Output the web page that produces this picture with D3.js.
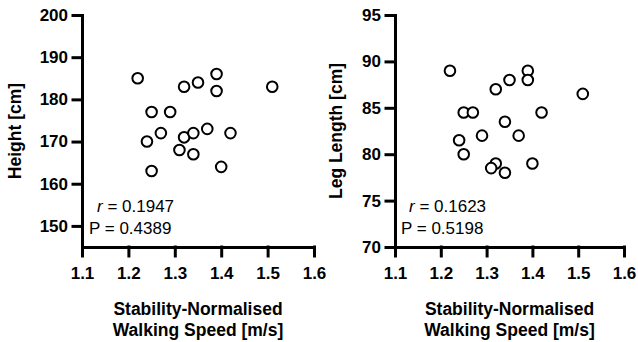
<!DOCTYPE html>
<html>
<head>
<meta charset="utf-8">
<script src="https://cdn.jsdelivr.net/npm/d3@7"></script>
<style>
  body { margin: 0; background: #fff; }
  svg { display: block; font-family: "Liberation Sans", Arial, sans-serif; }
</style>
</head>
<body>
<svg id="chart" width="638" height="342"></svg>
<script>
// walking speed (shared x values)
const speed = [1.22, 1.32, 1.35, 1.39, 1.39, 1.51, 1.25, 1.29, 1.24, 1.27, 1.32, 1.34, 1.37, 1.42, 1.31, 1.34, 1.25, 1.40]
const height = [185, 183, 184, 186, 182, 183, 177, 177, 170, 172, 171, 172, 173, 172, 168, 167, 163, 164]

const speedLeg = [1.22, 1.39, 1.39, 1.35, 1.32, 1.51, 1.25, 1.27, 1.42, 1.34, 1.24, 1.29, 1.37, 1.25, 1.32, 1.31, 1.34, 1.40]
const legLength = [89, 89, 88, 88, 87, 86.5, 84.5, 84.5, 84.5, 83.5, 81.5, 82, 82, 80, 79, 78.5, 78, 79]

const xTicks = [1.1, 1.2, 1.3, 1.4, 1.5, 1.6]
const heightTicks = [150, 160, 170, 180, 190, 200]
const legTicks = [70, 75, 80, 85, 90, 95]

const panels = [
  { x: speed, y: height, yDomain: [145, 200], yTicks: heightTicks, left: 82, right: 314,
    yTitle: 'Height [cm]', yTitleX: 21, r: '0.1947', p: '0.4389', statX: 89 },
  { x: speedLeg, y: legLength, yDomain: [70, 95], yTicks: legTicks, left: 395, right: 624,
    yTitle: 'Leg Length [cm]', yTitleX: 342, r: '0.1623', p: '0.5198', statX: 401 }
]

const plotTop = 15, plotBottom = 247
const svg = d3.select('#chart')

panels.forEach(p => {
  let xScale = d3.scaleLinear().domain([1.1, 1.6]).range([p.left, p.right])
  let yScale = d3.scaleLinear().domain(p.yDomain).range([plotBottom, plotTop])
  let g = svg.append('g')

  // x axis
  let xa = g.append('g')
    .attr('transform', `translate(0, ${plotBottom})`)
    .call(d3.axisBottom(xScale).tickValues(xTicks).tickFormat(d3.format('.1f')).tickSize(9).tickSizeOuter(0).tickPadding(11))
  // y axis
  let ya = g.append('g')
    .attr('transform', `translate(${p.left}, 0)`)
    .call(d3.axisLeft(yScale).tickValues(p.yTicks).tickSize(9).tickSizeOuter(0).tickPadding(5))

  ;[xa, ya].forEach(a => {
    a.selectAll('path, line').attr('stroke', '#000').attr('stroke-width', 3).attr('stroke-linecap', 'square')
    a.selectAll('text').attr('fill', '#000').style('font-size', '17px').style('font-weight', 'bold')
  })

  // points
  g.append('g').selectAll('circle').data(p.x.map((d, i) => [d, p.y[i]]))
    .join('circle')
    .attr('cx', d => xScale(d[0]))
    .attr('cy', d => yScale(d[1]))
    .attr('r', 5.3)
    .attr('fill', '#fff')
    .attr('stroke', '#000')
    .attr('stroke-width', 2)

  // x title
  let cx = (p.left + p.right) / 2
  let xt = g.append('text').attr('text-anchor', 'middle').style('font-size', '17.5px').style('font-weight', 'bold')
  xt.append('tspan').attr('x', cx).attr('y', 315).text('Stability-Normalised')
  xt.append('tspan').attr('x', cx).attr('y', 336).text('Walking Speed [m/s]')

  // y title
  g.append('text')
    .attr('transform', `translate(${p.yTitleX}, ${(plotTop + plotBottom) / 2}) rotate(-90)`)
    .attr('text-anchor', 'middle')
    .style('font-size', '17.5px').style('font-weight', 'bold')
    .text(p.yTitle)

  // stats
  let rt = g.append('text').attr('x', p.statX + 8).attr('y', 212).style('font-size', '17px')
  rt.append('tspan').style('font-style', 'italic').text('r')
  rt.append('tspan').text(' = ' + p.r)
  g.append('text').attr('x', p.statX).attr('y', 233.5).style('font-size', '17px').text('P = ' + p.p)
})
</script>
</body>
</html>
